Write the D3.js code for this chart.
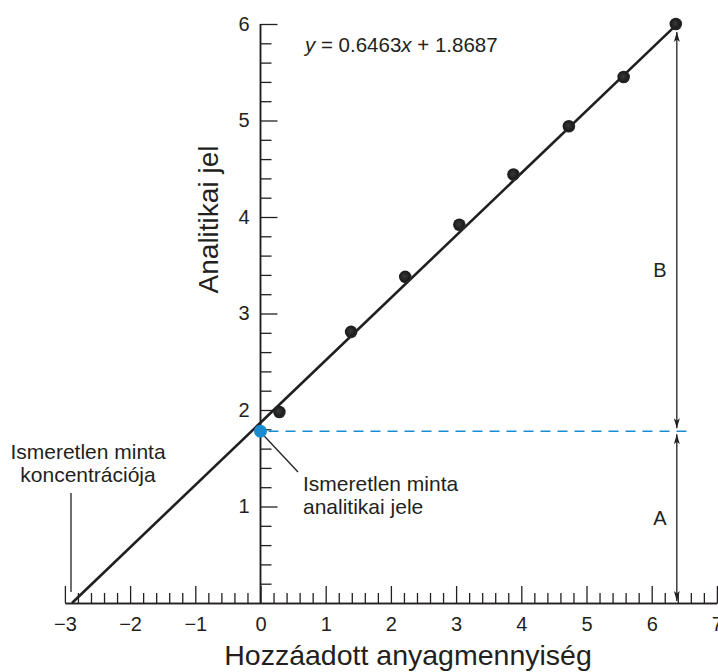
<!DOCTYPE html>
<html>
<head>
<meta charset="utf-8">
<script src="https://cdn.jsdelivr.net/npm/d3@7"></script>
<style>
  html, body { margin: 0; padding: 0; background: #fff; }
  svg { display: block; font-family: "Liberation Sans", Arial, sans-serif; }
</style>
</head>
<body>
<svg id="chart" width="718" height="672"></svg>
<script>
// Standard-addition calibration data
const addedAmount = [0.29, 1.39, 2.22, 3.05, 3.88, 4.73, 5.57, 6.37];
const signal      = [1.98, 2.81, 3.38, 3.92, 4.44, 4.94, 5.45, 6.00];
const slope = 0.6463;
const intercept = 1.8687;
const unknownSignal = 1.78;
const xMajorTicks = [-3, -2, -1, 0, 1, 2, 3, 4, 5, 6, 7];
const yMajorTicks = [1, 2, 3, 4, 5, 6];
const equationText = ["y", " = 0.6463", "x", " + 1.8687"];
const xTitle = "Hozzáadott anyagmennyiség";
const yTitle = "Analitikai jel";
const leftNote = ["Ismeretlen minta", "koncentrációja"];
const rightNote = ["Ismeretlen minta", "analitikai jele"];

const svg = d3.select("#chart");
const x = d3.scaleLinear().domain([-3, 7]).range([64.9, 716.9]);
const y = d3.scaleLinear().domain([0, 6]).range([603, 24]);
const ink = "#231f20";
const blue = "#1b8bd1";
const intFmt = d3.format("d");

// minor ticks every 0.2
const xMinor = d3.range(-3, 7.001, 0.2).map(v => +v.toFixed(1)).filter(v => Math.abs(v - Math.round(v)) > 1e-6);
const yMinor = d3.range(0.2, 6, 0.2).map(v => +v.toFixed(1)).filter(v => Math.abs(v - Math.round(v)) > 1e-6);

// x axis
const gx = svg.append("g").attr("transform", `translate(0,${y(0)})`);
gx.call(d3.axisBottom(x).tickValues(xMinor).tickSize(-10).tickSizeOuter(0).tickFormat(""));
gx.append("g").call(d3.axisBottom(x).tickValues(xMajorTicks).tickSize(-17).tickSizeOuter(0)
  .tickPadding(14).tickFormat(intFmt));
// y axis
const gy = svg.append("g").attr("transform", `translate(${x(0)},0)`);
gy.call(d3.axisLeft(y).tickValues(yMinor).tickSize(-11).tickSizeOuter(0).tickFormat(""));
gy.append("g").call(d3.axisLeft(y).tickValues(yMajorTicks).tickSize(-17).tickSizeOuter(0)
  .tickPadding(11).tickFormat(intFmt));
svg.selectAll(".domain").attr("stroke", ink).attr("stroke-width", 1.5);
svg.selectAll(".tick line").attr("stroke", ink).attr("stroke-width", 1.3);
svg.selectAll(".tick text").attr("font-size", 20).attr("fill", ink)
   .attr("font-family", "Liberation Sans, Arial, sans-serif");
// y axis domain spans only 0..6
gy.selectAll(".domain").attr("d", `M0,${y(6)}V${y(0)}`);

// axis titles
svg.append("text").attr("x", 408).attr("y", 665).attr("text-anchor", "middle")
  .attr("font-size", 28.5).attr("fill", ink).text(xTitle);
svg.append("text").attr("transform", `translate(218,${(y(0) + y(6)) / 2 - 94}) rotate(-90)`)
  .attr("text-anchor", "middle").attr("font-size", 28).attr("fill", ink).text(yTitle);

// regression line from x-intercept to last point
const x0 = -intercept / slope;
const xEnd = addedAmount[addedAmount.length - 1];
svg.append("line")
  .attr("x1", x(x0)).attr("y1", y(0))
  .attr("x2", x(xEnd)).attr("y2", y(slope * xEnd + intercept))
  .attr("stroke", ink).attr("stroke-width", 2.6);

// unknown-signal dashed level
svg.append("line")
  .attr("x1", x(0) + 8).attr("x2", x(6.55))
  .attr("y1", y(unknownSignal)).attr("y2", y(unknownSignal))
  .attr("stroke", blue).attr("stroke-width", 1.4).attr("stroke-dasharray", "10,7");

// arrows
const defs = svg.append("defs");
defs.append("marker").attr("id", "ah").attr("viewBox", "0 0 10 10")
  .attr("refX", 10).attr("refY", 5).attr("markerWidth", 10).attr("markerHeight", 10)
  .attr("markerUnits", "userSpaceOnUse").attr("orient", "auto-start-reverse")
  .append("path").attr("d", "M0,2 L10,5 L0,8 L2.5,5 Z").attr("fill", ink);
const grad = defs.append("radialGradient").attr("id", "dot").attr("cx", "45%").attr("cy", "45%").attr("r", "55%");
grad.append("stop").attr("offset", "0%").attr("stop-color", "#3a3a3a");
grad.append("stop").attr("offset", "70%").attr("stop-color", "#1c1c1c");
grad.append("stop").attr("offset", "100%").attr("stop-color", "#2e2e2e");

const xa = x(xEnd) + 1;
svg.append("line").attr("x1", xa).attr("x2", xa)
  .attr("y1", y(6) + 8).attr("y2", y(unknownSignal) - 3)
  .attr("stroke", ink).attr("stroke-width", 1.3)
  .attr("marker-start", "url(#ah)").attr("marker-end", "url(#ah)");
svg.append("line").attr("x1", xa).attr("x2", xa)
  .attr("y1", y(unknownSignal) + 3).attr("y2", y(0) - 2)
  .attr("stroke", ink).attr("stroke-width", 1.3)
  .attr("marker-start", "url(#ah)").attr("marker-end", "url(#ah)");
svg.append("text").attr("x", 660).attr("y", 277).attr("text-anchor", "middle")
  .attr("font-size", 20).attr("fill", ink).text("B");
svg.append("text").attr("x", 660).attr("y", 525).attr("text-anchor", "middle")
  .attr("font-size", 20).attr("fill", ink).text("A");

// data points
svg.append("g").selectAll("circle").data(addedAmount).join("circle")
  .attr("cx", d => x(d)).attr("cy", (d, i) => y(signal[i])).attr("r", 6.3)
  .attr("fill", "url(#dot)");
svg.append("circle").attr("cx", x(0)).attr("cy", y(unknownSignal)).attr("r", 6.5).attr("fill", blue);

// pointer lines
svg.append("line").attr("x1", x(0) + 4).attr("y1", y(unknownSignal) + 5)
  .attr("x2", 298).attr("y2", 472).attr("stroke", ink).attr("stroke-width", 1.3);
svg.append("line").attr("x1", 71).attr("x2", 71).attr("y1", 493).attr("y2", 592)
  .attr("stroke", ink).attr("stroke-width", 1.3);

// notes
const ln = svg.append("text").attr("text-anchor", "middle").attr("font-size", 21).attr("fill", ink);
leftNote.forEach((t, i) => ln.append("tspan").attr("x", 88).attr("y", 459 + i * 23).text(t));
const rn = svg.append("text").attr("font-size", 21).attr("fill", ink);
rightNote.forEach((t, i) => rn.append("tspan").attr("x", 303).attr("y", 491 + i * 23).text(t));

// equation
const eq = svg.append("text").attr("x", 305).attr("y", 52).attr("font-size", 20.5).attr("fill", ink);
equationText.forEach((t, i) => eq.append("tspan").attr("font-style", i % 2 === 0 ? "italic" : "normal").text(t));
</script>
</body>
</html>
